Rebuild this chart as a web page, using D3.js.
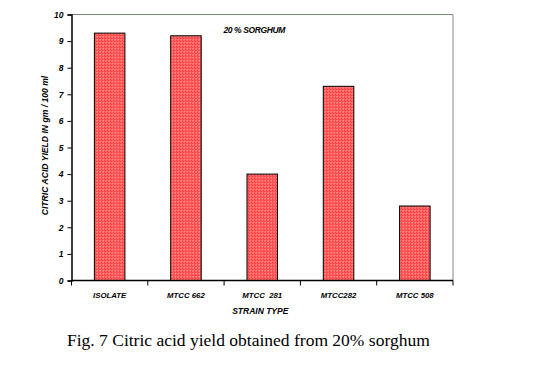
<!DOCTYPE html>
<html>
<head>
<meta charset="utf-8">
<script src="https://cdn.jsdelivr.net/npm/d3@7"></script>
<style>
  body { margin: 0; background: #fff; }
  svg text { font-family: "Liberation Sans", Arial, sans-serif; }
</style>
</head>
<body>
<div id="chart"></div>
<script>
// strain categories and yields (gm / 100 ml)
const strains = ["ISOLATE", "MTCC 662", "MTCC  281", "MTCC282", "MTCC 508"];
const yields = [9.3, 9.2, 4.0, 7.3, 2.8];
const yTicks = [0, 1, 2, 3, 4, 5, 6, 7, 8, 9, 10];

const width = 551, height = 376;
const margin = {top: 14.5, right: 98, bottom: 95.5, left: 71.5};
const plotW = width - margin.left - margin.right;
const plotH = height - margin.top - margin.bottom;

const svg = d3.select("#chart").append("svg")
    .attr("width", width)
    .attr("height", height);

// red/white dotted fill like the original
const defs = svg.append("defs");
const pat = defs.append("pattern")
    .attr("id", "dots")
    .attr("patternUnits", "userSpaceOnUse")
    .attr("width", 3)
    .attr("height", 3);
pat.append("rect").attr("width", 3).attr("height", 3).attr("fill", "#ff3b3b");
pat.append("rect").attr("x", 1).attr("y", 1).attr("width", 1).attr("height", 1).attr("fill", "#fff");
pat.append("rect").attr("x", 2).attr("y", 0).attr("width", 1).attr("height", 1).attr("fill", "#ffb0b0");

const g = svg.append("g").attr("transform", `translate(${margin.left},${margin.top})`);

const x = d3.scaleBand().domain(strains).range([0, plotW]).paddingInner(0.6).paddingOuter(0.3);
const y = d3.scaleLinear().domain([0, 10]).range([plotH, 0]);

// plot frame (top and right, grey)
g.append("path")
    .attr("d", `M0,0H${plotW}V${plotH}`)
    .attr("fill", "none")
    .attr("stroke", "#7f8a7f")
    .attr("stroke-width", 1);

// bars
g.selectAll("rect.bar")
    .data(strains)
    .enter().append("rect")
    .attr("class", "bar")
    .attr("x", d => x(d))
    .attr("y", (d, i) => y(yields[i]))
    .attr("width", x.bandwidth())
    .attr("height", (d, i) => y(0) - y(yields[i]))
    .attr("fill", "url(#dots)")
    .attr("stroke", "#000")
    .attr("stroke-width", 1);

// y axis
const yAxis = g.append("g")
    .call(d3.axisLeft(y).tickValues(yTicks).tickSize(4).tickFormat(d3.format("d")));
yAxis.select(".domain").attr("stroke", "#000").attr("stroke-width", 1.5);
yAxis.selectAll("text")
    .attr("font-size", 8.5)
    .attr("font-weight", "bold")
    .attr("font-style", "italic")
    .attr("x", -8);

// x axis: ticks at category boundaries
const step = plotW / strains.length;
const xb = g.append("g").attr("transform", `translate(0,${plotH})`);
xb.append("line").attr("x1", 0).attr("x2", plotW).attr("stroke", "#000").attr("stroke-width", 1.5);
xb.selectAll("line.tick")
    .data(d3.range(strains.length + 1))
    .enter().append("line")
    .attr("class", "tick")
    .attr("x1", d => d * step).attr("x2", d => d * step)
    .attr("y1", 0).attr("y2", 5)
    .attr("stroke", "#000");
xb.selectAll("text")
    .data(strains)
    .enter().append("text")
    .attr("x", d => x(d) + x.bandwidth() / 2)
    .attr("y", 17)
    .attr("text-anchor", "middle")
    .attr("font-size", 7.8)
    .attr("font-weight", "bold")
    .attr("font-style", "italic")
    .style("white-space", "pre")
    .attr("xml:space", "preserve")
    .text(d => d);

// axis titles
g.append("text")
    .attr("x", plotW / 2 - 2)
    .attr("y", plotH + 33)
    .attr("text-anchor", "middle")
    .attr("font-size", 8.5)
    .attr("font-weight", "bold")
    .attr("font-style", "italic")
    .text("STRAIN TYPE");

g.append("text")
    .attr("transform", `translate(-23.5,${plotH / 2 - 2}) rotate(-90)`)
    .attr("text-anchor", "middle")
    .attr("font-size", 8.6)
    .attr("font-weight", "bold")
    .attr("font-style", "italic")
    .text("CITRIC ACID YIELD IN gm / 100 ml");

g.append("text")
    .attr("x", 152)
    .attr("y", 18)
    .attr("font-size", 8.5)
    .attr("font-weight", "bold")
    .attr("font-style", "italic")
    .attr("letter-spacing", -0.4)
    .text("20 % SORGHUM");

// figure caption
svg.append("text")
    .attr("x", 67)
    .attr("y", 346)
    .style("font-family", "'Liberation Serif', 'Times New Roman', serif")
    .attr("font-size", 17.5)
    .text("Fig. 7 Citric acid yield obtained from 20% sorghum");
</script>
</body>
</html>
